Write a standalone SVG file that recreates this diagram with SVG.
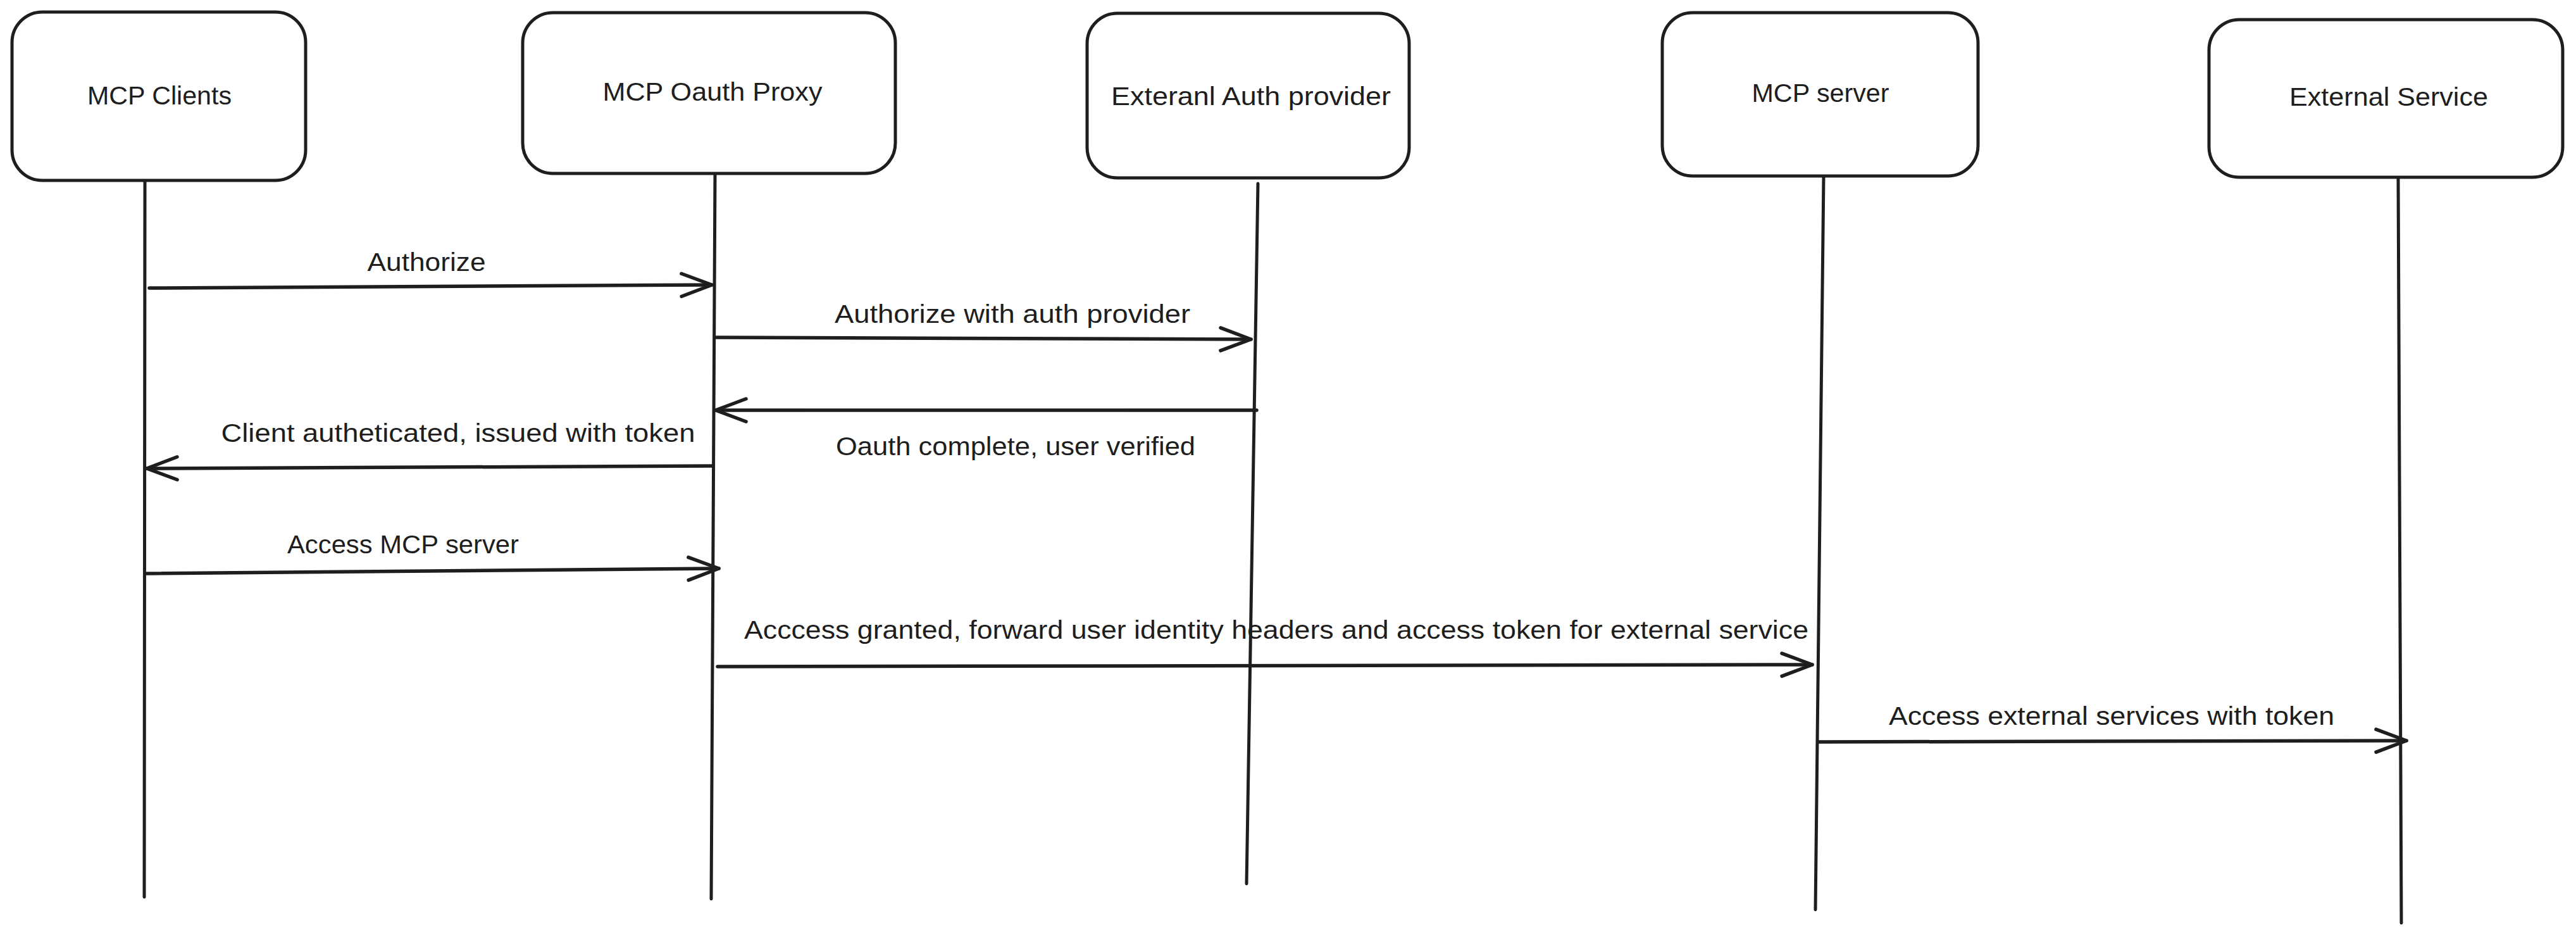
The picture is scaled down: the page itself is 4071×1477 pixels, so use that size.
<svg xmlns="http://www.w3.org/2000/svg" width="4071" height="1477" viewBox="0 0 4071 1477">
  <style>
    .box { fill: #ffffff; stroke: #1e1e1e; stroke-width: 5; }
    .life { stroke: #1e1e1e; stroke-width: 5; stroke-linecap: round; fill: none; }
    .msg { stroke: #1e1e1e; stroke-width: 5.5; stroke-linecap: round; fill: none; marker-end: url(#ah); }
    .lbl { font-family: "Liberation Sans", Arial, sans-serif; font-size: 40px; fill: #1e1e1e; text-anchor: middle; }
  </style>
  <defs>
    <marker id="ah" viewBox="-56 -26 64 52" refX="0" refY="0" markerWidth="64" markerHeight="52" markerUnits="userSpaceOnUse" orient="auto">
      <path d="M-48,-18 L0,0 L-48,18" fill="none" stroke="#1e1e1e" stroke-width="5.5" stroke-linecap="round" stroke-linejoin="round"/>
    </marker>
  </defs>
  <rect width="4071" height="1477" fill="#ffffff"/>

  <g id="lifelines">
    <line class="life" x1="229" y1="287" x2="228" y2="1417"/>
    <line class="life" x1="1130" y1="274" x2="1124" y2="1420"/>
    <line class="life" x1="1988" y1="290" x2="1970" y2="1396"/>
    <line class="life" x1="2882" y1="278" x2="2869" y2="1437"/>
    <line class="life" x1="3790" y1="280" x2="3795" y2="1458"/>
  </g>

  <g id="node-mcp-clients">
    <rect class="box" x="19" y="19" width="464" height="266" rx="48" ry="48"/>
    <text class="lbl" x="252" y="165" textLength="228" lengthAdjust="spacingAndGlyphs">MCP Clients</text>
  </g>
  <g id="node-mcp-oauth-proxy">
    <rect class="box" x="826" y="20" width="589" height="254" rx="48" ry="48"/>
    <text class="lbl" x="1126" y="159" textLength="347" lengthAdjust="spacingAndGlyphs">MCP Oauth Proxy</text>
  </g>
  <g id="node-external-auth-provider">
    <rect class="box" x="1718" y="21" width="509" height="260" rx="48" ry="48"/>
    <text class="lbl" x="1977" y="166" textLength="442" lengthAdjust="spacingAndGlyphs">Exteranl Auth provider</text>
  </g>
  <g id="node-mcp-server">
    <rect class="box" x="2627" y="20" width="499" height="258" rx="48" ry="48"/>
    <text class="lbl" x="2877" y="161" textLength="217" lengthAdjust="spacingAndGlyphs">MCP server</text>
  </g>
  <g id="node-external-service">
    <rect class="box" x="3491" y="31" width="559" height="249" rx="48" ry="48"/>
    <text class="lbl" x="3775" y="167" textLength="314" lengthAdjust="spacingAndGlyphs">External Service</text>
  </g>

  <g id="connectors">
    <line class="msg" x1="236" y1="455" x2="1125" y2="450"/>
    <line class="msg" x1="1132" y1="533" x2="1977" y2="536"/>
    <line class="msg" x1="1986" y1="648" x2="1131" y2="648"/>
    <line class="msg" x1="1127" y1="736" x2="232" y2="740"/>
    <line class="msg" x1="232" y1="906" x2="1136" y2="898"/>
    <line class="msg" x1="1134" y1="1053" x2="2864" y2="1050"/>
    <line class="msg" x1="2874" y1="1172" x2="3803" y2="1170"/>
  </g>

  <g id="connector-labels">
    <text class="lbl" x="674" y="428" textLength="187" lengthAdjust="spacingAndGlyphs">Authorize</text>
    <text class="lbl" x="1600" y="510" textLength="562" lengthAdjust="spacingAndGlyphs">Authorize with auth provider</text>
    <text class="lbl" x="1605" y="719" textLength="568" lengthAdjust="spacingAndGlyphs">Oauth complete, user verified</text>
    <text class="lbl" x="724" y="698" textLength="749" lengthAdjust="spacingAndGlyphs">Client autheticated, issued with token</text>
    <text class="lbl" x="637" y="874" textLength="366" lengthAdjust="spacingAndGlyphs">Access MCP server</text>
    <text class="lbl" x="2017" y="1009" textLength="1682" lengthAdjust="spacingAndGlyphs">Acccess granted, forward user identity headers and access token for external service</text>
    <text class="lbl" x="3337" y="1145" textLength="704" lengthAdjust="spacingAndGlyphs">Access external services with token</text>
  </g>
</svg>
